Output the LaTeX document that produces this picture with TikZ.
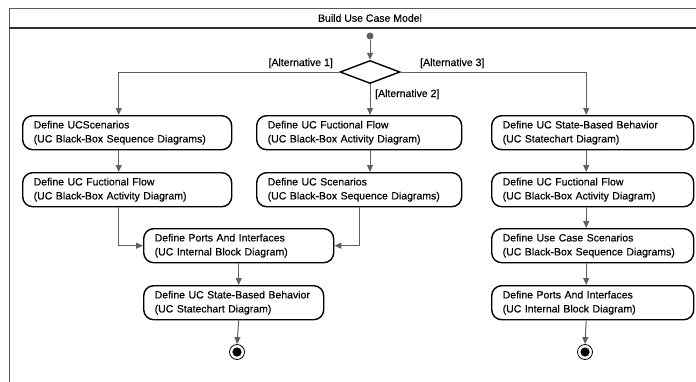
\documentclass[tikz,border=0pt]{standalone}
\usepackage{fontspec}
\setmainfont{Liberation Sans}
\newfontfamily\diagfont{Liberation Sans}[FakeBold=0.35]
\usetikzlibrary{shapes.geometric,arrows.meta}
\begin{document}
\begin{tikzpicture}[x=1pt,y=-1pt,
  font=\diagfont\fontsize{10.5}{14}\selectfont,
  action/.style={draw=black, line width=1.4pt, rounded corners=10pt,
    anchor=north west, minimum height=34pt, inner xsep=11pt, inner ysep=2pt,
    align=left, text width=#1},
  flow/.style={draw=gray!75!black, line width=1pt,
    -{Triangle[length=7pt,width=6pt]}},
  guard/.style={inner sep=0pt},
  frameline/.style={draw=gray!70!black, line width=1pt},
]
\clip (0,0) rectangle (696,381);
\useasboundingbox (0,0) rectangle (696,381);

% activity frame with its title compartment
\draw[frameline] (9,390) -- (9,8) -- (700,8);
\draw[draw=black!80, line width=1.6pt] (9,28) -- (700,28);
\node[inner sep=0pt] (title) at (370,18) {Build Use Case Model};

% initial node and decision
\node[circle, fill=gray!75!black, minimum size=7pt, inner sep=0pt] (start) at (370,36) {};
\node[diamond, draw=black, line width=1.4pt, minimum width=60pt, minimum height=23pt,
  inner sep=0pt] (dia) at (370,72) {};

% first branch
\node[action=187pt] (L1) at (22,115) {Define UCScenarios\\(UC Black-Box Sequence Diagrams)};
\node[action=187pt] (L2) at (22,172) {Define UC Fuctional Flow\\(UC Black-Box Activity Diagram)};

% second branch
\node[action=183pt] (M1) at (256,115) {Define UC Fuctional Flow\\(UC Black-Box Activity Diagram)};
\node[action=183pt] (M2) at (256,172) {Define UC Scenarios\\(UC Black-Box Sequence Diagrams)};

% joint continuation of the first two branches
\node[action=168pt] (P) at (143,228) {Define Ports And Interfaces\\(UC Internal Block Diagram)};
\node[action=158pt] (S) at (143,285) {Define UC State-Based Behavior\\(UC Statechart Diagram)};

% third branch
\node[action=180pt] (R1) at (491,115) {Define UC State-Based Behavior\\(UC Statechart Diagram)};
\node[action=180pt] (R2) at (491,172) {Define UC Fuctional Flow\\(UC Black-Box Activity Diagram)};
\node[action=180pt] (R3) at (491,228) {Define Use Case Scenarios\\(UC Black-Box Sequence Diagrams)};
\node[action=180pt] (R4) at (491,285) {Define Ports And Interfaces\\(UC Internal Block Diagram)};

% final nodes
\node[circle, draw=black, line width=0.8pt, minimum size=15pt, inner sep=0pt] (F1) at (237,352) {};
\node[circle, draw=black, line width=0.8pt, minimum size=15pt, inner sep=0pt] (F2) at (585,352) {};
\fill[black] (F1.center) circle (4.6pt);
\fill[black] (F2.center) circle (4.6pt);

% guards
\node[guard, anchor=base east] (g1) at (333,66) {[Alternative 1]};
\node[guard, anchor=base west] (g3) at (420,66) {[Alternative 3]};
\node[guard, anchor=base west] (g2) at (375,97) {[Alternative 2]};

% control flows
\draw[flow] (start) -- (dia.north);
\draw[flow] (dia.west) -| ([xshift=-8.5pt]L1.north);
\draw[flow] (dia.south) -- (dia.south |- M1.north);
\draw[flow] (dia.east) -| ([xshift=-6.5pt]R1.north);

\draw[flow] ([xshift=-8.5pt]L1.south) -- ([xshift=-8.5pt]L2.north);
\draw[flow] ([xshift=-8.5pt]L2.south) |- (P.west);

\draw[flow] (dia.south |- M1.south) -- (dia.south |- M2.north);
\draw[flow] (M2.south) |- (P.east);

\draw[flow] (P.south) -- (P.south |- S.north);
\draw[flow] (P.south |- S.south) -- (F1.north);

\draw[flow] ([xshift=-6.5pt]R1.south) -- ([xshift=-6.5pt]R2.north);
\draw[flow] ([xshift=-6.5pt]R2.south) -- ([xshift=-6.5pt]R3.north);
\draw[flow] ([xshift=-6.5pt]R3.south) -- ([xshift=-6.5pt]R4.north);
\draw[flow] ([xshift=-6.5pt]R4.south) -- (F2.north);
\end{tikzpicture}
\end{document}
